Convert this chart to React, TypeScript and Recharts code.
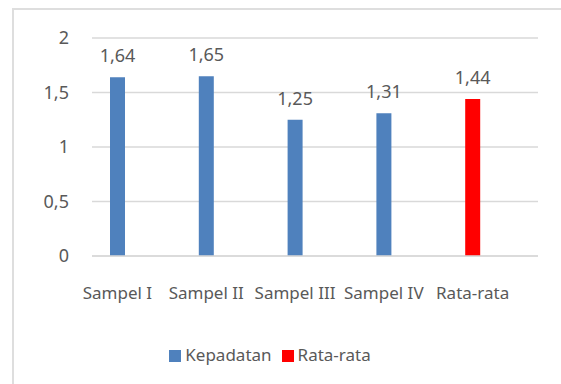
import React from 'react';
import { BarChart, Bar, XAxis, YAxis, CartesianGrid, Legend, LabelList } from 'recharts';

const categories = ['Sampel I', 'Sampel II', 'Sampel III', 'Sampel IV', 'Rata-rata'];
const kepadatan = [1.64, 1.65, 1.25, 1.31, null];
const rataRata = [null, null, null, null, 1.44];
const yTicks = [0, 0.5, 1, 1.5, 2];

const data = categories.map((name, i) => ({
  name,
  kepadatan: kepadatan[i],
  rataRata: rataRata[i],
}));

const FONT = '"Noto Sans", "Open Sans", sans-serif';
const TEXT = '#595959';

const comma = (v: number | string) => String(v).replace('.', ',');

export default function App() {
  return (
    <div style={{ position: 'absolute', left: 0, top: 0, width: 561, height: 384, fontFamily: FONT }}>
      {/* chart frame */}
      <div
        style={{
          position: 'absolute',
          left: 12,
          top: 8,
          width: 560,
          height: 390,
          border: '2px solid #dedede',
          boxSizing: 'border-box',
        }}
      />
      <div style={{ position: 'absolute', left: 0, top: 0 }}>
        <BarChart
          width={561}
          height={384}
          data={data}
          margin={{ top: 38, right: 23, left: 32, bottom: 98 }}
          style={{ fontFamily: FONT }}
        >
          <CartesianGrid vertical={false} stroke="#d9d9d9" strokeWidth={1.5} />
          <XAxis
            dataKey="name"
            height={30}
            padding={{ left: -19, right: 21 }}
            axisLine={{ stroke: '#d9d9d9', strokeWidth: 1.5 }}
            tickLine={false}
            tickMargin={25}
            interval={0}
            tick={{ fill: TEXT, fontSize: 17, fontFamily: FONT }}
          />
          <YAxis
            width={60}
            domain={[0, 2]}
            ticks={yTicks}
            axisLine={false}
            tickLine={false}
            tickMargin={17}
            tickFormatter={comma}
            tick={{ fill: TEXT, fontSize: 18, fontFamily: FONT }}
          />
          <Legend
            verticalAlign="middle"
            align="center"
            iconType="square"
            iconSize={12}
            wrapperStyle={{ top: 343, left: 22, fontSize: 17, fontFamily: FONT }}
            formatter={(value) => <span style={{ color: TEXT }}>{value}</span>}
          />
          <Bar
            dataKey="kepadatan"
            name="Kepadatan"
            stackId="a"
            fill="#4f81bd"
            barSize={15}
            isAnimationActive={false}
          >
            <LabelList
              dataKey="kepadatan"
              position="top"
              offset={15}
              formatter={(v: any) => (v == null ? '' : comma(v))}
              style={{ fill: TEXT, fontSize: 18, fontFamily: FONT }}
            />
          </Bar>
          <Bar
            dataKey="rataRata"
            name="Rata-rata"
            stackId="a"
            fill="#ff0000"
            barSize={15}
            isAnimationActive={false}
          >
            <LabelList
              dataKey="rataRata"
              position="top"
              offset={15}
              formatter={(v: any) => (v == null ? '' : comma(v))}
              style={{ fill: TEXT, fontSize: 18, fontFamily: FONT }}
            />
          </Bar>
        </BarChart>
      </div>
    </div>
  );
}
